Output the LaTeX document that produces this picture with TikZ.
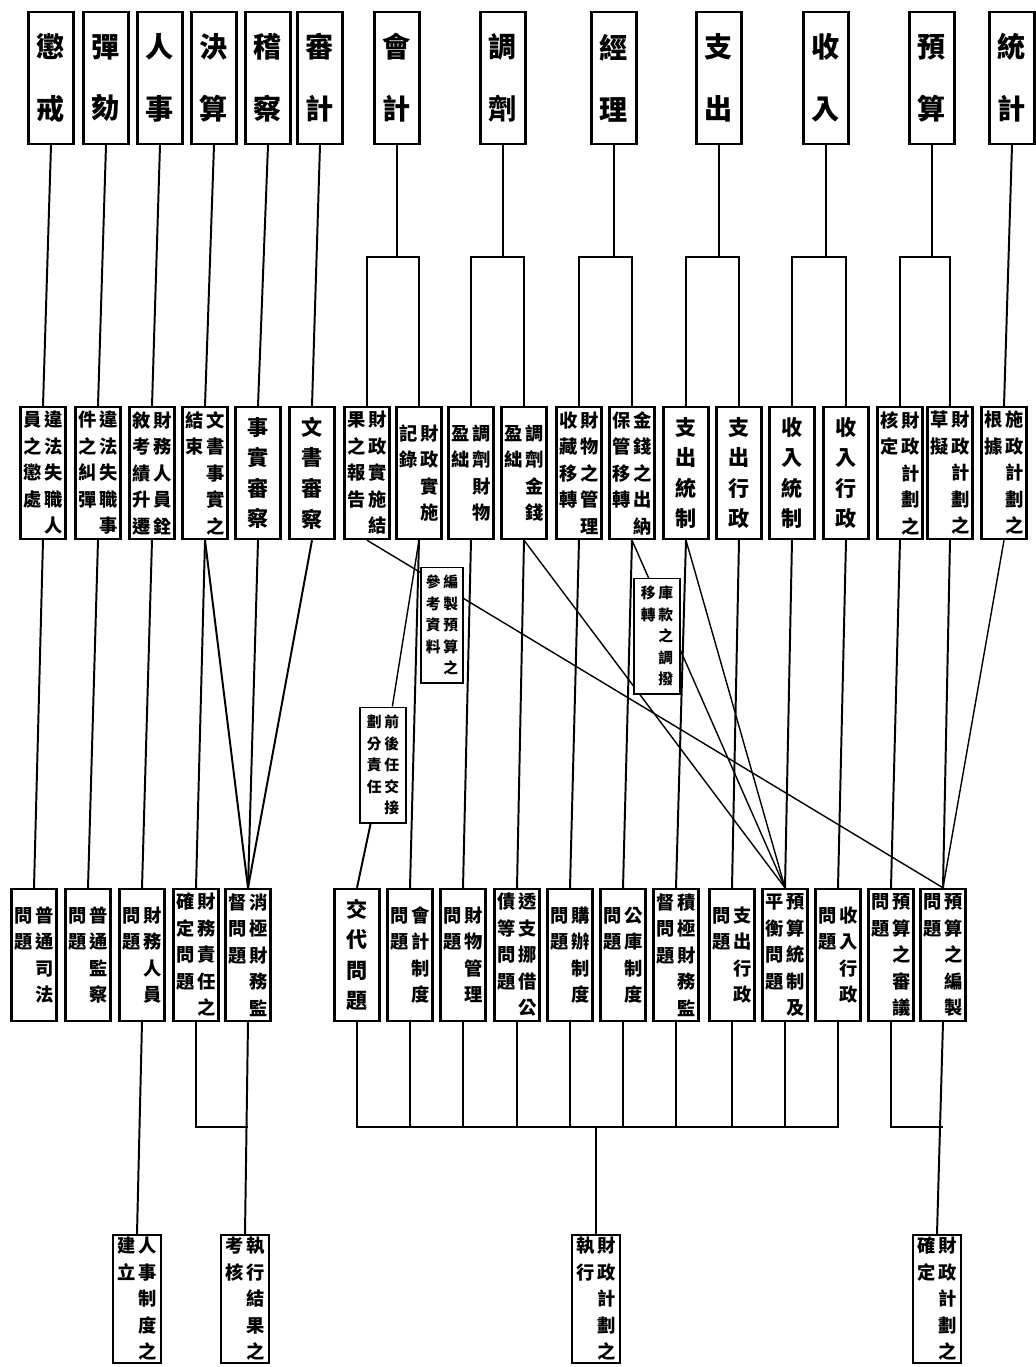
\documentclass[tikz,border=0pt]{standalone}
\usepackage{fontspec}
\setmainfont{Noto Sans CJK TC}
\usepackage{tikz}

% one column of upright characters, read top to bottom
\newcommand\vcolend{}
\def\vcolA#1{\ifx#1\vcolend\else\hbox to 1em{\hss#1\hss}\expandafter\vcolA\fi}
\newcommand\vcol[2][1.45em]{\vtop{\baselineskip=#1\relax\lineskiplimit=-\maxdimen\lineskip=0pt\expandafter\vcolA#2\vcolend}}
% two columns, the right one is read first
\newcommand\vtwo[3][1.45em]{\vcol[#1]{#3}\hskip2pt\vcol[#1]{#2}}
\newcommand\bigchars{\fontsize{15}{15}\selectfont}

\begin{document}
\begin{tikzpicture}[x=0.025cm, y=-0.025cm,
    cell/.style={draw, line width=1.6pt, fill=white, inner sep=0pt, minimum width=32pt},
    topbox/.style={cell, minimum height=94pt, font=\fontsize{20}{20}\selectfont\bfseries},
    midbox/.style={cell, minimum height=94pt, font=\fontsize{13}{13}\selectfont\bfseries},
    endbox/.style={cell, minimum width=34pt, minimum height=91pt, font=\fontsize{13}{13}\selectfont\bfseries},
    tagbox/.style={cell, line width=1.2pt, minimum width=30pt, minimum height=82pt, font=\fontsize{10.5}{10.5}\selectfont\bfseries},
    link/.style={line width=1.4pt},
    cross/.style={line width=1pt}]
  \useasboundingbox (0,0) rectangle (1035,1367);
  \fill[white] (0,0) rectangle (1035,1367);

  % top row
  \foreach \n/\x/\lbl in {chengjie/51/懲戒, tanhe/106/彈劾, renshi/160/人事, juesuan/214/決算,
      jicha/268/稽察, shenji/320/審計, kuaiji/397/會計, tiaoji/503/調劑, jingli/614/經理,
      zhichu/719/支出, shouru/826/收入, yusuan/932/預算, tongji/1012/統計}
    \node[topbox] (\n) at (\x,78) {\vcol[2.2em]{\lbl}};

  % second row
  \foreach \i/\x/\lbl in {1/43/{\vtwo{違法失職人}{員之懲處}}, 2/98/{\vtwo{違法失職事}{件之糾彈}},
      3/152/{\vtwo{財務人員銓}{敘考績升遷}}, 4/205/{\vtwo{文書事實之}{結束}},
      5/258/{\bigchars\vcol{事實審察}}, 6/312/{\bigchars\vcol{文書審察}},
      7/367/{\vtwo{財政實施結}{果之報告}}, 8/419/{\vtwo{財政實施}{記錄}},
      9/471/{\vtwo{調劑財物}{盈絀}}, 10/524/{\vtwo{調劑金錢}{盈絀}},
      11/579/{\vtwo{財物之管理}{收藏移轉}}, 12/632/{\vtwo{金錢之出納}{保管移轉}},
      13/686/{\bigchars\vcol{支出統制}}, 14/739/{\bigchars\vcol{支出行政}},
      15/792/{\bigchars\vcol{收入統制}}, 16/846/{\bigchars\vcol{收入行政}},
      17/900/{\vtwo{財政計劃之}{核定}}, 18/950/{\vtwo{財政計劃之}{草擬}},
      19/1004/{\vtwo{施政計劃之}{根據}}}
    \node[midbox] (m\i) at (\x,473) {\lbl};

  % third row
  \foreach \i/\x/\lbl in {1/34/{\vtwo{普通司法}{問題}}, 2/88/{\vtwo{普通監察}{問題}},
      3/142/{\vtwo{財務人員}{問題}}, 4/196/{\vtwo{財務責任之}{確定問題}},
      5/248/{\vtwo{消極財務監}{督問題}}, 6/357/{\bigchars\vcol{交代問題}},
      7/410/{\vtwo{會計制度}{問題}}, 8/463/{\vtwo{財物管理}{問題}},
      9/517/{\vtwo{透支挪借公}{債等問題}}, 10/570/{\vtwo{購辦制度}{問題}},
      11/623/{\vtwo{公庫制度}{問題}}, 12/676/{\vtwo{積極財務監}{督問題}},
      13/732/{\vtwo{支出行政}{問題}}, 14/785/{\vtwo{預算統制及}{平衡問題}},
      15/838/{\vtwo{收入行政}{問題}}, 16/891/{\vtwo{預算之審議}{問題}},
      17/943/{\vtwo{預算之編製}{問題}}}
    \node[midbox] (b\i) at (\x,955) {\lbl};

  % last row
  \foreach \i/\x/\lbl in {1/137/{\vtwo{人事制度之}{建立}}, 2/245/{\vtwo{執行結果之}{考核}},
      3/596/{\vtwo{財政計劃之}{執行}}, 4/937/{\vtwo{財政計劃之}{確定}}}
    \node[endbox] (e\i) at (\x,1299) {\lbl};

  % top row to second row
  \coordinate (fork) at (0,257);
  \foreach \a/\b in {chengjie/m1, tanhe/m2, renshi/m3, juesuan/m4, jicha/m5, shenji/m6, tongji/m19}
    \draw[link] (\a.south) -- (\b.north);
  \foreach \a/\l/\r in {kuaiji/m7/m8, tiaoji/m9/m10, jingli/m11/m12, zhichu/m13/m14,
      shouru/m15/m16, yusuan/m17/m18}{
    \draw[link] (\a.south) -- (\a.south |- fork);
    \draw[link] (\l.north) |- (\a.south |- fork) -| (\r.north);
  }

  % second row to third row
  \foreach \a/\b in {m1/b1, m2/b2, m3/b3, m4/b4, m4/b5, m5/b5, m6/b5, m8/b7, m9/b8, m10/b9,
      m11/b10, m12/b11, m13/b12, m14/b13, m15/b14, m16/b15, m17/b16, m18/b17}
    \draw[link] (\a.south) -- (\b.north);
  \foreach \a/\b in {m10/b14, m12/b14, m13/b14, m7/b17, m19/b17}
    \draw[cross] (\a.south) -- (\b.north);

  % labels sitting on the lines
  \node[tagbox] (tagA) at (442,625) {\vtwo{編製預算之}{參考資料}};
  \node[tagbox, minimum width=33pt] (tagB) at (657,636) {\vtwo{庫款之調撥}{移轉}};
  \node[tagbox, minimum width=33pt] (tagC) at (383,765) {\vtwo{前後任交接}{劃分責任}};
  \draw[cross] (m8.south) -- (tagC);
  \draw[link] (tagC) -- (b6.north);

  % third row to last row
  \coordinate (tie) at (0,1127);
  \draw[link] (b3.south) -- (e1.north);
  \draw[link] (b4.south) |- (b5.south |- tie);
  \draw[link] (b5.south) -- (e2.north);
  \draw[link] (b6.south) |- (e3.north |- tie) -| (b15.south);
  \foreach \i in {7,...,14}
    \draw[link] (b\i.south) -- (b\i.south |- tie);
  \draw[link] (e3.north |- tie) -- (e3.north);
  \draw[link] (b16.south) |- (b17.south |- tie);
  \draw[link] (b17.south) -- (e4.north);
\end{tikzpicture}
\end{document}
